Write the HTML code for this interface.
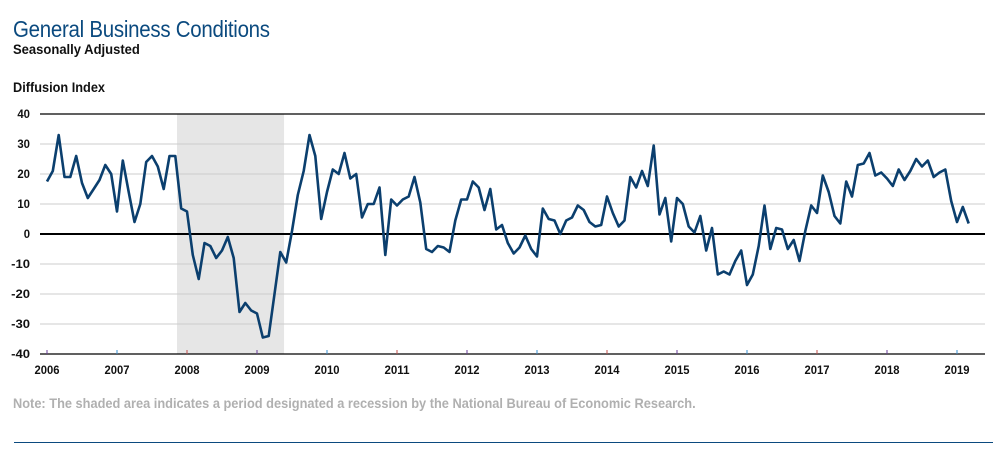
<!DOCTYPE html>
<html><head><meta charset="utf-8"><style>
body{margin:0;background:#fff;width:1000px;height:452px;overflow:hidden;font-family:"Liberation Sans",sans-serif;}
.t{position:absolute;white-space:nowrap;transform-origin:0 0}
</style></head><body>
<div class="t" style="left:13px;top:16px;font-size:23px;color:#0b4a7f;letter-spacing:-0.3px;transform:scaleX(0.89)">General Business Conditions</div>
<div class="t" style="left:13px;top:41px;font-size:14px;font-weight:bold;color:#111;transform:scaleX(0.93)">Seasonally Adjusted</div>
<div class="t" style="left:13px;top:79px;font-size:14px;font-weight:bold;color:#111;transform:scaleX(0.91)">Diffusion Index</div>
<div class="t" style="left:13px;top:395px;font-size:14px;font-weight:bold;color:#b0b0b0;transform:scaleX(0.914)">Note: The shaded area indicates a period designated a recession by the National Bureau of Economic Research.</div>
<div style="position:absolute;left:14px;top:442px;width:979px;height:1px;background:#0b4a7f"></div>
<svg id="chart" width="1000" height="452" style="position:absolute;left:0;top:0"></svg>
<script>
const years=[2006,2007,2008,2009,2010,2011,2012,2013,2014,2015,2016,2017,2018,2019];
const yTicks=[40,30,20,10,0,-10,-20,-30,-40];
const recession=[2007.857,2009.386];
const values=[17.5,21,33,19,19,26,17,12,15,18,23,20,
7.5,24.5,14,4,10,24,26,22.5,15,26,26,8.5,
7.5,-7,-15,-3,-4,-8,-5.5,-1,-8,-26,-23,-25.5,
-26.5,-34.5,-34,-20,-6,-9.5,1,13,21,33,26,5,
14,21.5,20,27,18.5,20,5.5,10,10,15.5,-7,11.5,
9.5,11.5,12.5,19,10.5,-5,-6,-4,-4.5,-6,4.5,11.5,
11.5,17.5,15.5,8,15,1.5,3,-3,-6.5,-4.5,-0.5,-5,
-7.5,8.5,5,4.5,0,4.5,5.5,9.5,8,4,2.5,3,
12.5,7,2.5,4.5,19,15.5,21,16,29.5,6.5,12,-2.5,
12,10,2.5,0.5,6,-5.5,2,-13.5,-12.5,-13.5,-9,-5.5,
-17,-13.5,-4,9.5,-5,2,1.5,-5,-2,-9,1,9.5,
7,19.5,14,6,3.5,17.5,12.5,23,23.5,27,19.5,20.5,
18.5,16,21.5,18,21,25,22.5,24.5,19,20.5,21.5,11,
4,9,3.5];
const NS="http://www.w3.org/2000/svg";
const svg=document.getElementById('chart');
const L=40,R=985;
function xYear(t){return 47+(t-2006)*70;}
function yVal(v){return 234-v*3;}
function mk(tag,attrs){const e=document.createElementNS(NS,tag);for(const k in attrs)e.setAttribute(k,attrs[k]);svg.appendChild(e);return e;}
const rec=mk('rect',{x:xYear(recession[0]),y:yVal(40),width:xYear(recession[1])-xYear(recession[0]),height:yVal(-40)-yVal(40),fill:'#e6e6e6'});


yTicks.forEach(v=>{
  const edge=(v===40||v===-40),zero=v===0;
  const ln=mk('line',{x1:L,x2:R,y1:yVal(v),y2:yVal(v),stroke:zero||edge?'#000':'#cccccc','stroke-width':zero?2:(edge?1.2:1)});
  
  
  const tx=mk('text',{x:30,y:yVal(v)+4,'text-anchor':'end','font-size':12,'font-weight':'bold','font-family':'Liberation Sans, sans-serif',fill:'#111',textLength:String(v).length*6.3,lengthAdjust:'spacingAndGlyphs'});
  tx.textContent=v;
  
  
});
const tickCols=['#6a3d9a','#3a8fd0','#c0504d'];
years.forEach((yr,i)=>{
  const x=xYear(yr);
  const tk=mk('line',{x1:x,x2:x,y1:yVal(-40)-4,y2:yVal(-40),stroke:tickCols[i%3],'stroke-width':1});
  
  
  const tx=mk('text',{x:x,y:374,'text-anchor':'middle','font-size':12,'font-weight':'bold','font-family':'Liberation Sans, sans-serif',fill:'#111',textLength:25,lengthAdjust:'spacingAndGlyphs'});
  tx.textContent=yr;
  
  
});
const pts=values.map((v,i)=>xYear(2006+i/12).toFixed(1)+','+yVal(v).toFixed(1)).join(' ');
const pl=mk('polyline',{points:pts,fill:'none',stroke:'#0b3f6e','stroke-width':2.6,'stroke-linejoin':'round'});


</script>
</body></html>
